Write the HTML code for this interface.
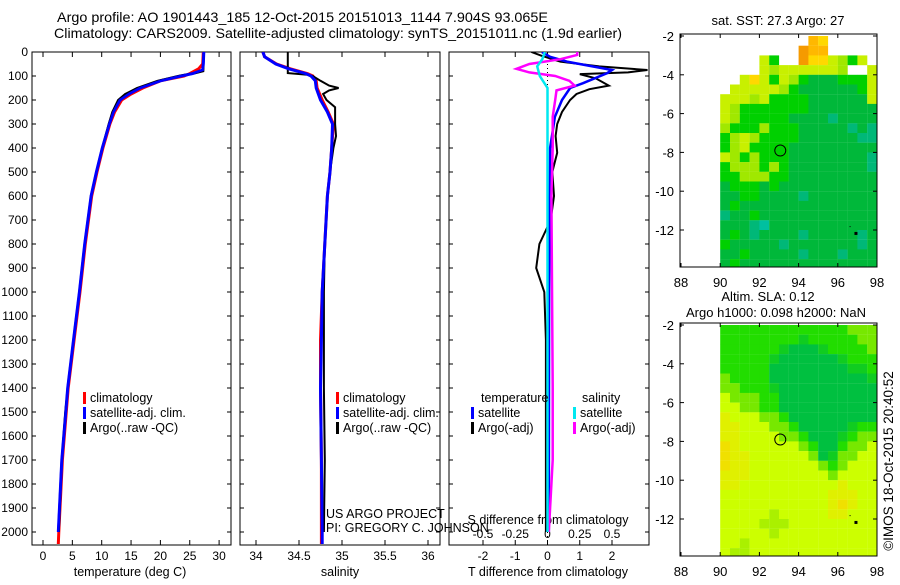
<!DOCTYPE html>
<html><head><meta charset="utf-8"><style>
body{margin:0;background:#fff;width:900px;height:580px;overflow:hidden}
svg{font-family:"Liberation Sans",sans-serif;font-size:12px}
</style></head><body>
<svg id="c" width="900" height="580" xmlns="http://www.w3.org/2000/svg">
<text x="57" y="22" font-size="14" textLength="491" lengthAdjust="spacingAndGlyphs">Argo profile: AO 1901443_185 12-Oct-2015 20151013_1144 7.904S 93.065E</text>
<text x="54" y="38" font-size="14" textLength="568" lengthAdjust="spacingAndGlyphs">Climatology: CARS2009. Satellite-adjusted climatology: synTS_20151011.nc (1.9d earlier)</text>
</svg>
<script>
// ---------- data ----------
const tDepth=[0,50,70,90,100,120,150,175,200,250,300,400,500,600,800,1000,1200,1400,1700,2000,2050];
const tClim=[27.3,27.2,26.5,25,24,20,17,15,13.4,12.2,11.4,10.2,9.2,8.3,7.2,6.3,5.3,4.3,3.3,2.7,2.6];
const tSat=[27.4,27.3,27.2,25.5,23.5,20,16.5,14.6,13.1,12,11.3,10.1,9.1,8.2,7.1,6.2,5.2,4.2,3.2,2.6];
const tSatDepth=[0,50,75,90,100,120,150,175,200,250,300,400,500,600,800,1000,1200,1400,1700,2000];
const tArgoDepth=[0,80,88,95,100,120,150,175,200,250,300,400,500,600,800,1000,1200,1400,1500,1700,2000];
const tArgo=[27.4,27.3,26,24,23,19.5,16,14,12.8,11.8,11.2,10.1,9.1,8.2,7.1,6.2,5.2,4.2,3.8,3.2,2.7];
const sDepth=[0,20,50,70,90,100,120,150,200,250,300,400,500,600,800,1000,1200,1400,1700,2000,2050];
const sClim=[34.08,34.1,34.24,34.4,34.6,34.66,34.7,34.71,34.77,34.84,34.9,34.88,34.86,34.83,34.8,34.77,34.75,34.75,34.76,34.76,34.76];
const sSat=[34.08,34.1,34.23,34.38,34.58,34.64,34.69,34.7,34.75,34.83,34.89,34.88,34.86,34.83,34.8,34.77,34.76,34.75,34.76,34.77,34.77];
const sArgoDepth=[0,88,95,100,120,140,150,160,175,200,230,300,350,400,500,600,800,1000,1400,1700,2000];
const sArgo=[34.37,34.37,34.6,34.66,34.75,34.85,34.96,34.85,34.78,34.82,34.92,34.92,34.93,34.9,34.86,34.83,34.8,34.79,34.79,34.8,34.79];
const dtSatDepth=[0,20,40,75,88,130,150,200,270,400,1000,2000];
const dtSat=[-0.17,0.08,0.6,2.0,1.85,1.1,0.7,0.45,0.23,0.08,0.05,0.04];
const dtArgoDepth=[0,15,40,60,75,85,92,110,140,155,175,200,250,300,350,420,500,600,700,800,900,1000,1200,2000];
const dtArgo=[-0.5,-0.2,0.4,1.6,3.1,2.5,1.0,1.5,1.9,1.3,0.9,0.7,0.45,0.3,0.25,0.3,0.15,0.2,0.1,-0.25,-0.35,-0.1,-0.05,-0.05];
const dsSatDepth=[0,30,60,100,150,200,400,1000,2000];
const dsSat=[-0.02,-0.04,-0.08,-0.06,0,0,0,0,0];
const dsArgoDepth=[0,12,30,50,70,85,100,120,140,160,200,270,400,600,1400,1700,2000];
const dsArgo=[0.23,0.23,0.1,-0.14,-0.24,-0.14,0.06,0.17,0.21,0.07,0.06,0.04,0.04,0.03,0.04,0.04,0.01];
const depthTicks=[0,100,200,300,400,500,600,700,800,900,1000,1100,1200,1300,1400,1500,1600,1700,1800,1900,2000];
const tTicks=[0,5,10,15,20,25,30];
const sTicks=[34,34.5,35,35.5,36];
const sTickLabels=["34","34.5","35","35.5","36"];
const dtTicks=[-2,-1,0,1,2];
const dsTicks=[-0.5,-0.25,0,0.25,0.5];
const dsTickLabels=["-0.5","-0.25","0","0.25","0.5"];
const latTicks=[-2,-4,-6,-8,-10,-12];
const lonTicks=[88,90,92,94,96,98];
const sstGrid=[
".........yY......","........oyy.....l","....lg..oYYlLgl.g","....lLllllllL..lg",
"..lYlglLgGGGggglL",".lllllLgGGGGGGgll","lllLlggggGGGGGGlL","lLgggggggGGGGGGGG",
"lLgggggGGGGtGGGGt","LgggLgggGGGGGtGtt","gLlLggggGGGGGGttG","gLlggggGGGGGGGGGt",
"lLgLgggGGGGGGGGtt","gLLLgLgGGGGGGGGtG","ggLLLggGGGGGGGGGG","GgggGgGGGGGGGGGGt",
"GGggGGGGtGGGGGGGG","GgGGGGGGGGGGGGGGG","tGGgGGGGGGGGGGGGG","GGGtTGGGGGGGGGGGt",
"GgGtGGGGtGGGGGtGG","gGGGGGtGGGGGGGtGt","GGgGGGGGtGGGtGGGG","GgGGGGGGGGGGGGGGG"];
const slaGrid=[
"aaaaaaaaaaaaakkkk","aaaaaaaamaaaaakkk","aaaaaamdddmaaaaka","aaaaamddddddmaaaa",
"aaaaaddddddddmmaa","kaaaaddddddddddma","kkaaamddddddddddm","ykkkaaddddddddddm",
"yykkaaddddddddddm","Yyyykkaddddddddda","YYyyykkadddddmaaa","YYyyyykkadddmakkk",
"OYyyyyyykaddakkyy","OYYyyyyyykdmkkyyy","OYYyyyyyyykakyyyy","YYYyyyyyyyykyyyyy",
"YYyyyyyyyyyyYyyyy","yyyyyyyyyyyYYYyyy","yyyyyyyyyyyYOYyyy","yyyyylyyyyyYYyyyy",
"yyyylllyyyyyyyyyy","yyyyylyyyyyyyyyyl","yylyyyyyyyyyyyyyy","yllyyyyyyyyyyyyyy"];
const sstPal={o:"#f59a00",y:"#ffb800",Y:"#ffd800",l:"#c8f000",L:"#a0e800",g:"#00d000",G:"#00b83a",t:"#00b878",T:"#00c0a0"};
const slaPal={a:"#22dd00",d:"#00c040",m:"#10cc20",k:"#77e800",l:"#aaf000",y:"#ccff00",Y:"#e0f000",O:"#f0e000"};
const argoLon=93.065, argoLat=-7.904;

// ---------- helpers ----------
const svg=document.getElementById('c');const NS="http://www.w3.org/2000/svg";
function mk(tag,at,txt){const e=document.createElementNS(NS,tag);for(const k in at)e.setAttribute(k,at[k]);if(txt!==undefined)e.textContent=txt;svg.appendChild(e);return e;}
const yD=d=>52+0.24*d;
const xT=t=>43+5.87*t, xS=s=>256+86*(s-34), xDT=d=>547.5+32.25*d, xDS=d=>547.5+129*d;
function line(xs,ys,fx,col,w,name){
  const pts=xs.map((v,i)=>fx(v).toFixed(1)+","+yD(ys[i]).toFixed(1)).join(" ");
  const e=mk('polyline',{points:pts,fill:"none",stroke:col,"stroke-width":w,"clip-path":"url(#cp)"});
  
  
}
const defs=mk('defs',{});
const panels=[[32,231,'temperature-panel'],[240,440,'salinity-panel'],[449,649,'difference-panel']];
panels.forEach(([a,b,n])=>{const r=mk('rect',{x:a,y:52,width:b-a,height:493,fill:"none",stroke:"#000"});

});
depthTicks.forEach(d=>{const y=yD(d);
 const t=mk('text',{x:28,y:y+4,"text-anchor":"end"},String(d));
 
 
 panels.forEach(([a,b])=>{mk('line',{x1:a,x2:a+4,y1:y,y2:y,stroke:"#000"});mk('line',{x1:b-4,x2:b,y1:y,y2:y,stroke:"#000"});});
});
function xticks(vals,labs,fx,ylab,nm){vals.forEach((v,i)=>{const x=fx(v);
 mk('line',{x1:x,x2:x,y1:545,y2:540,stroke:"#000"});mk('line',{x1:x,x2:x,y1:52,y2:57,stroke:"#000"});
 const t=mk('text',{x:x,y:ylab,"text-anchor":"middle"},labs[i]);
 
 });}
xticks(tTicks,tTicks.map(String),xT,560,'temperature-tick-label');
xticks(sTicks,sTickLabels,xS,560,'salinity-tick-label');
xticks(dtTicks,dtTicks.map(String),xDT,560,'t-diff-tick-label');
dsTicks.forEach((v,i)=>{const t=mk('text',{x:xDS(v),y:538,"text-anchor":"middle"},dsTickLabels[i]);

});
[["temperature (deg C)",130,"temperature-axis-title"],["salinity",340,"salinity-axis-title"],["T difference from climatology",548,"t-diff-axis-title"]].forEach(([s,x,n])=>{
 const t=mk('text',{x:x,y:576,"text-anchor":"middle","font-size":"12.5"},s);
 
 });
let st=mk('text',{x:548,y:524,"text-anchor":"middle","font-size":"12.5"},"S difference from climatology");


mk('line',{x1:547.5,x2:547.5,y1:52,y2:545,stroke:"#000","stroke-dasharray":"1,3"});
const cp=document.createElementNS(NS,'clipPath');cp.setAttribute('id','cp');defs.appendChild(cp);
panels.forEach(([a,b])=>{const r=document.createElementNS(NS,'rect');r.setAttribute('x',a+1);r.setAttribute('y',52);r.setAttribute('width',b-a-2);r.setAttribute('height',493);cp.appendChild(r);});
line(tClim,tDepth,xT,"#ff0000",3,'temp-climatology-line');
line(tSat,tSatDepth,xT,"#0000ff",3,'temp-satellite-line');
line(tArgo,tArgoDepth,xT,"#000",2,'temp-argo-line');
line(tSat,tSatDepth,xT,"#0000ff",2.5,'temp-satellite-line-top');
line(sClim,sDepth,xS,"#ff0000",3,'sal-climatology-line');
line(sArgo,sArgoDepth,xS,"#000",2,'sal-argo-line');
line(sSat,sDepth,xS,"#0000ff",3,'sal-satellite-line');
line(dtArgo,dtArgoDepth,xDT,"#000",2,'tdiff-argo-line');
line(dtSat,dtSatDepth,xDT,"#0000ff",2.5,'tdiff-satellite-line');
line(dsArgo,dsArgoDepth,xDS,"#ff00ff",2.5,'sdiff-argo-line');
line(dsSat,dsSatDepth,xDS,"#00e8f0",2.5,'sdiff-satellite-line');
function leg(x,y,col,txt,nm){mk('rect',{x:x,y:y-10,width:3,height:12,fill:col});
 const t=mk('text',{x:x+7,y:y,"font-size":"12.5"},txt);
 
 }
[[83,'temp'],[336,'sal']].forEach(([x,p])=>{
 leg(x,402,"#ff0000","climatology",p+'-legend-climatology');
 leg(x,417,"#0000ff","satellite-adj. clim.",p+'-legend-satellite');
 leg(x,432,"#000","Argo(..raw -QC)",p+'-legend-argo');});
let lt=mk('text',{x:481,y:402,"font-size":"12.5"},"temperature");
lt=mk('text',{x:582,y:402,"font-size":"12.5"},"salinity");
leg(471,417,"#0000ff","satellite",'legend-tdiff-satellite');
leg(471,432,"#000","Argo(-adj)",'legend-tdiff-argo');
leg(573,417,"#00e8f0","satellite",'legend-sdiff-satellite');
leg(573,432,"#ff00ff","Argo(-adj)",'legend-sdiff-argo');
lt=mk('text',{x:326,y:518,"font-size":"12.5"},"US ARGO PROJECT");
lt=mk('text',{x:326,y:532,"font-size":"12.5"},"PI: GREGORY C. JOHNSON");
function map(top,grid,pal,nm){
 const lx=lon=>681+19.6*(lon-88), ly=lat=>top+2+19.4*(-lat-2);
 const bot=top+233;
 grid.forEach((row,r)=>{for(let c=0;c<row.length;c++){const ch=row[c];if(!pal[ch])continue;
  const x=lx(90+0.5*c), y=ly(-2-0.5*r); const w=Math.min(9.9,877-x), h=Math.min(9.8,bot-y);
  if(w<=0||h<=0)continue;
  const e=mk('rect',{x:x.toFixed(1),y:y.toFixed(1),width:w.toFixed(1),height:h.toFixed(1),fill:pal[ch]});
  
  }});
 const b=mk('rect',{x:680,y:top,width:197,height:bot-top,fill:"none",stroke:"#000"});
 
 
 latTicks.forEach(v=>{const y=ly(v);mk('line',{x1:680,x2:684,y1:y,y2:y,stroke:"#000"});mk('line',{x1:873,x2:877,y1:y,y2:y,stroke:"#000"});
  const t=mk('text',{x:674,y:y+5,"text-anchor":"end","font-size":"13"},String(v));
  
  });
 lonTicks.forEach(v=>{const x=lx(v);mk('line',{x1:x,x2:x,y1:bot,y2:bot-4,stroke:"#000"});mk('line',{x1:x,x2:x,y1:top,y2:top+4,stroke:"#000"});
  const t=mk('text',{x:x,y:bot+20,"text-anchor":"middle","font-size":"13"},String(v));
  
  });
 const c=mk('circle',{cx:lx(argoLon),cy:ly(argoLat),r:5.5,fill:"none",stroke:"#000"});
 
 
 mk('rect',{x:lx(96.85),y:ly(-12.1),width:3,height:3,fill:"#000"});
 mk('rect',{x:lx(96.6),y:ly(-11.8),width:1,height:1,fill:"#000"});
}
map(34,sstGrid,sstPal,'sst-map');
map(323,slaGrid,slaPal,'sla-map');
lt=mk('text',{x:778,y:25,"text-anchor":"middle","font-size":"13"},"sat. SST: 27.3 Argo: 27");
lt=mk('text',{x:768,y:301,"text-anchor":"middle","font-size":"13"},"Altim. SLA: 0.12");
lt=mk('text',{x:776,y:317,"text-anchor":"middle","font-size":"13"},"Argo h1000: 0.098 h2000: NaN");
lt=mk('text',{x:0,y:0,"text-anchor":"middle","font-size":"13.5",transform:"translate(893,461) rotate(-90)"},"©IMOS 18-Oct-2015 20:40:52");
</script>
</body></html>
